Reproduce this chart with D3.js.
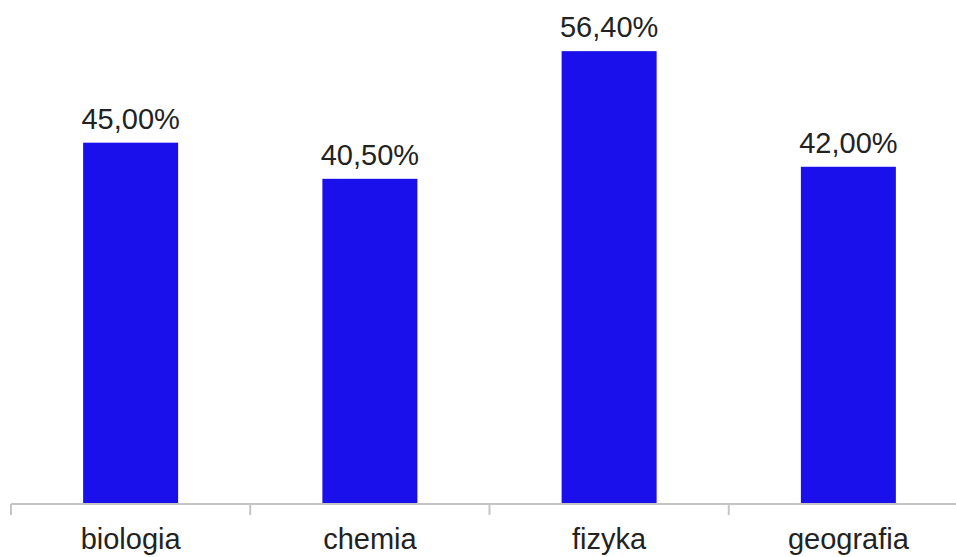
<!DOCTYPE html>
<html><head><meta charset="utf-8">
<script src="https://cdn.jsdelivr.net/npm/d3@7"></script>
<style>body{margin:0;background:#fff}svg{display:block}</style>
</head><body>
<svg id="c" width="956" height="557"></svg>
<script>
const categories = ["biologia", "chemia", "fizyka", "geografia"];
const values = [45.00, 40.50, 56.40, 42.00];
const valueLabels = ["45,00%", "40,50%", "56,40%", "42,00%"];

const svg = d3.select("#c");
const x = d3.scaleBand().domain(categories).range([11, 968]).padding(0);
const y = d3.scaleLinear().domain([0, 62.77]).range([504, 0]);
const bw = x.bandwidth() * 0.397;

svg.append("g").selectAll("rect").data(values).join("rect")
  .attr("x", (d, i) => x(categories[i]) + x.bandwidth() / 2 - bw / 2)
  .attr("y", d => y(d))
  .attr("width", bw)
  .attr("height", d => y(0) - y(d))
  .attr("fill", "#1a10ec");

// axis
const ax = svg.append("g");
ax.append("line").attr("x1", 11).attr("x2", 956).attr("y1", 504).attr("y2", 504)
  .attr("stroke", "#c4c4c4").attr("stroke-width", 2);
const ticks = categories.map(c => x(c)).concat([x.range()[1]]);
ax.selectAll("line.t").data(ticks).join("line").attr("class", "t")
  .attr("x1", d => d).attr("x2", d => d).attr("y1", 504).attr("y2", 515)
  .attr("stroke", "#c4c4c4").attr("stroke-width", 2);

svg.append("g").selectAll("text").data(categories).join("text")
  .attr("x", d => x(d) + x.bandwidth() / 2)
  .attr("y", 549)
  .attr("text-anchor", "middle")
  .attr("font-family", "Liberation Sans, Arial, sans-serif")
  .attr("font-size", 29)
  .attr("fill", "#222")
  .text(d => d);

svg.append("g").selectAll("text").data(values).join("text")
  .attr("x", (d, i) => x(categories[i]) + x.bandwidth() / 2)
  .attr("y", d => y(d) - 14)
  .attr("text-anchor", "middle")
  .attr("font-family", "Liberation Sans, Arial, sans-serif")
  .attr("font-size", 29)
  .attr("fill", "#222")
  .text((d, i) => valueLabels[i]);
</script>
</body></html>
